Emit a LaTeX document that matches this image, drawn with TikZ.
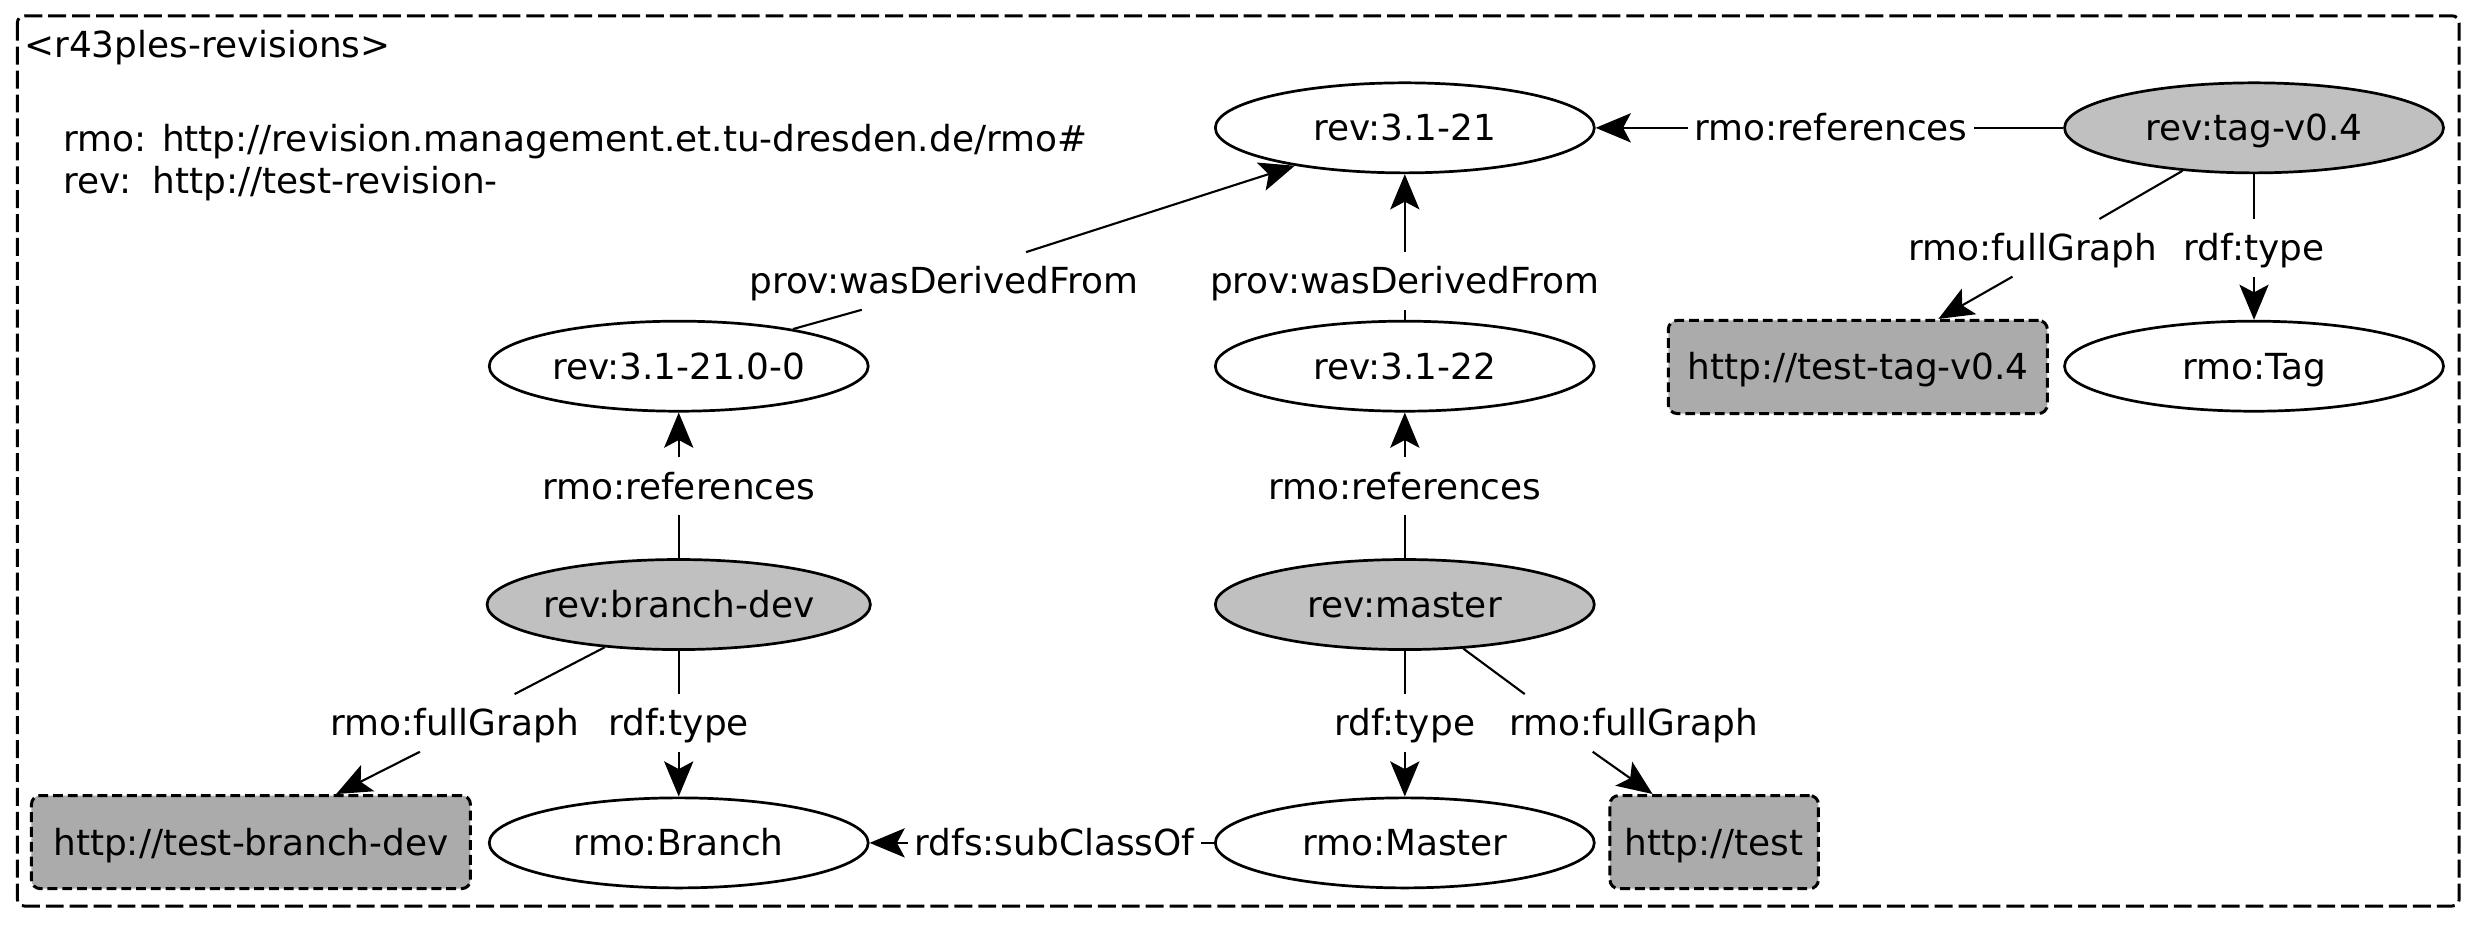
\documentclass[tikz,border=0pt]{standalone}
\usepackage{fontspec}
\setmainfont{DejaVu Sans}
\usetikzlibrary{arrows.meta,shapes.geometric}
\definecolor{gA}{HTML}{C0C0C0}
\definecolor{gB}{HTML}{ABABAB}
\begin{document}
\begin{tikzpicture}[x=0.015785cm,y=-0.015785cm,
  every node/.style={font=\fontsize{10.2}{12.2}\selectfont, text height=8.7pt, text depth=1.3pt},
  res/.style={ellipse, draw, line width=0.77pt, minimum width=3.788cm, minimum height=0.9cm, inner sep=0pt},
  revn/.style={res, fill=gA},
  graphbox/.style={rectangle, draw, dash pattern=on 2.8pt off 1.4pt, fill=gB, rounded corners=2.5pt, line width=0.85pt, minimum height=0.931cm, inner sep=0pt},
  lbl/.style={inner xsep=1.6pt, inner ysep=3pt},
  conn/.style={line width=0.6pt},
  conna/.style={conn, -{Stealth[length=10pt,width=8.3pt,inset=2.2pt]}}
]
\useasboundingbox (0,0) rectangle (1568,585.4);
\draw[dash pattern=on 5.1pt off 1.7pt, line width=0.85pt, rounded corners=2pt] (11,10) rectangle (1558,574);
\node[anchor=west, inner sep=0pt] (title) at (15,28.5) {<r43ples-revisions>};
\node[anchor=west, inner sep=0pt] (pfx1) at (40,87.5) {rmo: http://revision.management.et.tu-dresden.de/rmo\#};
\node[anchor=west, inner sep=0pt] (pfx2) at (40,114.5) {rev:\hspace{0.6em}http://test-revision-};

\node[res] (r21) at (890,81) {rev:3.1-21};
\node[revn] (tag) at (1428,81) {rev:tag-v0.4};
\node[res] (r210) at (430,232) {rev:3.1-21.0-0};
\node[res] (r22) at (890,232) {rev:3.1-22};
\node[graphbox, minimum width=3.788cm] (gtag) at (1177,232.5) {http://test-tag-v0.4};
\node[res] (ctag) at (1428,232) {rmo:Tag};
\node[revn] (bdev) at (430,383) {rev:branch-dev};
\node[revn] (mst) at (890,383) {rev:master};
\node[graphbox, minimum width=4.388cm] (gdev) at (159,533.5) {http://test-branch-dev};
\node[res] (cbr) at (430,534) {rmo:Branch};
\node[res] (cms) at (890,534) {rmo:Master};
\node[graphbox, minimum width=2.084cm] (gtest) at (1086,533.5) {http://test};

\node[lbl] (l1) at (1160,81) {rmo:references};
\node[lbl] (l2) at (598,178) {prov:wasDerivedFrom};
\node[lbl] (l3) at (890,178) {prov:wasDerivedFrom};
\node[lbl] (l4) at (1288,157) {rmo:fullGraph};
\node[lbl] (l5) at (1428,157) {rdf:type};
\node[lbl] (l6) at (430,308) {rmo:references};
\node[lbl] (l7) at (890,308) {rmo:references};
\node[lbl] (l8) at (288,458) {rmo:fullGraph};
\node[lbl] (l9) at (430,458) {rdf:type};
\node[lbl] (l10) at (890,458) {rdf:type};
\node[lbl] (l11) at (1035,458) {rmo:fullGraph};
\node[lbl] (l12) at (668,534) {rdfs:subClassOf};

\draw[conn] (tag) -- (l1); \draw[conna] (l1) -- (r21);
\draw[conn] (r210.18) -- ([xshift=-0.821cm]l2.south); \draw[conna] ([xshift=0.821cm]l2.north) -- (r21.199);
\draw[conn] (r22) -- (l3); \draw[conna] (l3) -- (r21);
\draw[conn] (tag.211) -- ([xshift=0.663cm]l4.north); \draw[conna] ([xshift=-0.205cm]l4.south) -- ([xshift=0.805cm]gtag.north);
\draw[conn] (tag) -- (l5); \draw[conna] (l5) -- (ctag);
\draw[conn] (bdev) -- (l6); \draw[conna] (l6) -- (r210);
\draw[conn] (mst) -- (l7); \draw[conna] (l7) -- (r22);
\draw[conn] (bdev.210) -- ([xshift=0.600cm]l8.north); \draw[conna] ([xshift=-0.347cm]l8.south) -- ([xshift=0.852cm]gdev.north);
\draw[conn] (bdev) -- (l9); \draw[conna] (l9) -- (cbr);
\draw[conn] (mst) -- (l10); \draw[conna] (l10) -- (cms);
\draw[conn] (mst.-37) -- ([xshift=-1.089cm]l11.north); \draw[conna] ([xshift=-0.410cm]l11.south) -- ([xshift=-0.616cm]gtest.north);
\draw[conn] (cms) -- (l12); \draw[conna] (l12) -- (cbr);
\end{tikzpicture}
\end{document}
